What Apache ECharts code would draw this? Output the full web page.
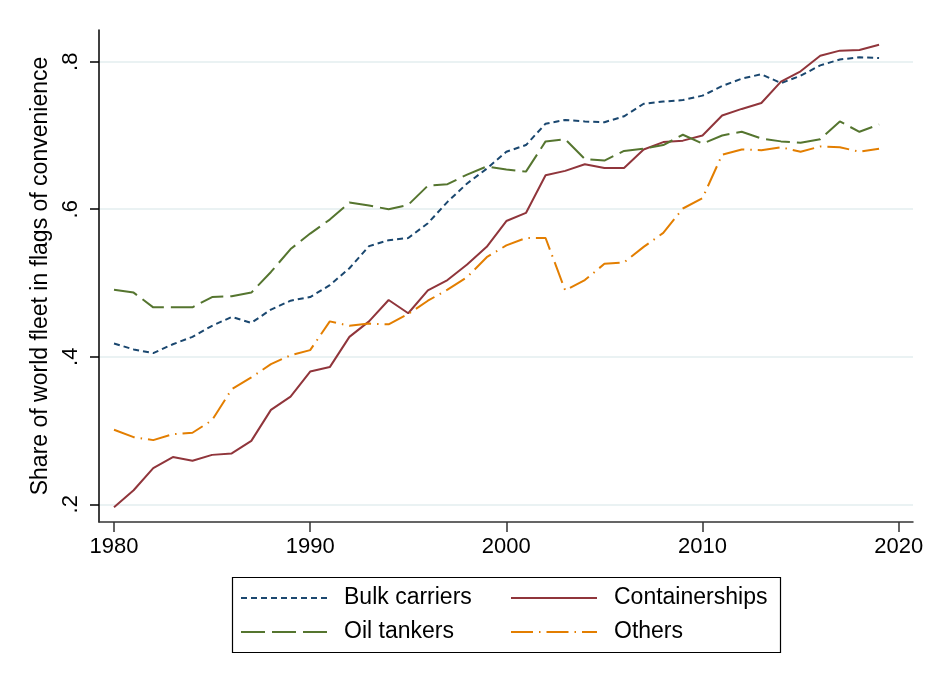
<!DOCTYPE html>
<html>
<head>
<meta charset="utf-8">
<script src="https://cdn.jsdelivr.net/npm/echarts@6/dist/echarts.min.js"></script>
<style>
html,body{margin:0;padding:0;background:#fff;}
#c{width:928px;height:675px;}
</style>
</head>
<body>
<div id="c"></div>
<script>
const years = [];
for (let y = 1980; y <= 2019; y++) years.push(y);

const bulkCarriers = [0.418,0.410,0.405,0.417,0.427,0.442,0.454,0.446,0.464,0.476,
  0.481,0.497,0.520,0.550,0.558,0.561,0.581,0.610,0.635,0.655,
  0.678,0.687,0.716,0.721,0.719,0.718,0.726,0.743,0.746,0.748,
  0.754,0.767,0.777,0.783,0.771,0.781,0.795,0.803,0.806,0.805];

const containerships = [0.196,0.219,0.249,0.264,0.259,0.267,0.269,0.286,0.328,0.346,
  0.380,0.386,0.427,0.448,0.477,0.459,0.490,0.504,0.525,0.549,
  0.584,0.595,0.646,0.652,0.661,0.656,0.656,0.681,0.691,0.693,
  0.700,0.727,0.736,0.744,0.773,0.787,0.808,0.815,0.816,0.823];

const oilTankers = [0.491,0.487,0.467,0.467,0.467,0.481,0.482,0.487,0.515,0.546,
  0.567,0.586,0.609,0.605,0.600,0.606,0.632,0.634,0.647,0.658,
  0.654,0.651,0.692,0.695,0.668,0.666,0.679,0.682,0.687,0.701,
  0.689,0.700,0.705,0.696,0.692,0.690,0.695,0.719,0.705,0.715];

const others = [0.301,0.291,0.287,0.295,0.297,0.314,0.356,0.372,0.390,0.402,
  0.409,0.448,0.442,0.445,0.444,0.458,0.476,0.491,0.508,0.535,
  0.551,0.561,0.561,0.490,0.504,0.526,0.528,0.549,0.568,0.601,
  0.615,0.674,0.681,0.680,0.684,0.678,0.685,0.684,0.678,0.682];

const xTicks = [1980, 1990, 2000, 2010, 2020];
const yTicks = [0.2, 0.4, 0.6, 0.8];
const yTickLabels = ['.2', '.4', '.6', '.8'];

const seriesNames = ['Bulk carriers', 'Containerships', 'Oil tankers', 'Others'];
const seriesData = [bulkCarriers, containerships, oilTankers, others];
const seriesColors = ['#1a476f', '#90353b', '#55752f', '#e37e00'];
const seriesDash = [[6, 4], 'solid', [24, 7], [22, 6, 1.5, 6]];

const FONT = 'Liberation Sans, Arial, sans-serif';

const legendCommon = {
  orient: 'vertical', top: 586,
  itemWidth: 86, itemHeight: 14, itemGap: 10,
  itemStyle: { opacity: 0 },
  textStyle: { color: '#000', fontSize: 23, fontFamily: FONT, lineHeight: 24, padding: [0, 0, 0, 12] },
  padding: 0
};

const chart = echarts.init(document.getElementById('c'));
chart.setOption({
  backgroundColor: '#fff',
  animation: false,
  grid: { left: 99, top: 30, right: 15, bottom: 153, containLabel: false },
  xAxis: {
    type: 'value',
    min: 1979.235,
    max: 2020.73,
    axisLine: { show: true, lineStyle: { color: '#333', width: 1.5 } },
    axisTick: { show: true, length: 10, lineStyle: { color: '#333', width: 1.5 }, customValues: xTicks },
    axisLabel: { customValues: xTicks, color: '#000', fontSize: 22, fontFamily: FONT, margin: 14,
      formatter: v => String(v) },
    splitLine: { show: false }
  },
  yAxis: {
    type: 'value',
    min: 0.176,
    max: 0.843,
    name: 'Share of world fleet in flags of convenience',
    nameLocation: 'middle',
    nameRotate: 90,
    nameGap: 41,
    nameTextStyle: { color: '#000', fontSize: 23, fontFamily: FONT },
    axisLine: { show: true, lineStyle: { color: '#000', width: 1.5 } },
    axisTick: { show: true, length: 9, lineStyle: { color: '#000', width: 1.5 }, customValues: yTicks },
    axisLabel: { customValues: yTicks, rotate: 90, color: '#000', fontSize: 22, fontFamily: FONT, margin: 17,
      formatter: v => yTickLabels[yTicks.findIndex(t => Math.abs(t - v) < 1e-6)] },
    splitLine: { show: true, lineStyle: { color: '#eaf2f3', width: 2 } }
  },
  legend: [
    Object.assign({ data: [seriesNames[0], seriesNames[2]], left: 240 }, legendCommon),
    Object.assign({ data: [seriesNames[1], seriesNames[3]], left: 510 }, legendCommon)
  ],
  graphic: [{
    type: 'rect', left: 230, top: 575,
    shape: { width: 548, height: 75 },
    style: { fill: 'none', stroke: '#000', lineWidth: 1.2 }, z: 100
  }],
  series: seriesNames.map((name, i) => ({
    name: name,
    type: 'line',
    data: years.map((y, k) => [y, seriesData[i][k]]),
    showSymbol: false,
    symbol: 'none',
    lineStyle: { color: seriesColors[i], width: 2, type: seriesDash[i], cap: 'butt' },
    itemStyle: { color: seriesColors[i] },
    emphasis: { disabled: true },
    z: 2 + i
  }))
});
</script>
</body>
</html>
